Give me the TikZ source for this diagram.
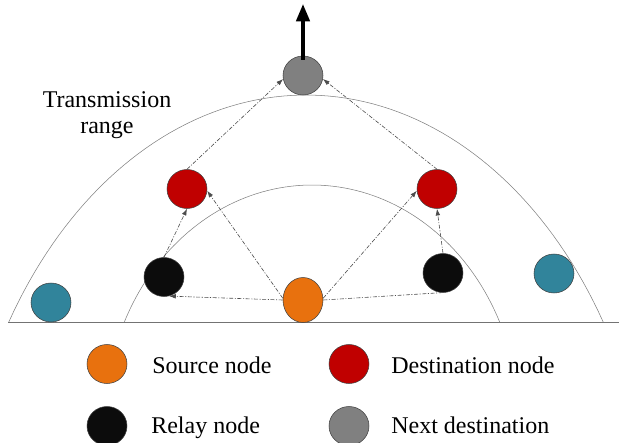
\documentclass[tikz,border=0pt]{standalone}
\usepackage{fontspec}
\setmainfont{LiberationSerif}[Extension=.ttf, UprightFont=*-Regular, BoldFont=*-Bold]
\usetikzlibrary{arrows.meta,shapes.geometric}

\definecolor{srcorange}{RGB}{232,113,14}
\definecolor{dstred}{RGB}{192,0,0}
\definecolor{nextgray}{RGB}{128,128,128}
\definecolor{relayblack}{RGB}{12,12,12}
\definecolor{idleteal}{RGB}{49,132,155}

\tikzset{
  dev/.style={ellipse, draw=black!75, line width=0.4pt, minimum width=30pt, minimum height=29.25pt, inner sep=0pt},
  hop/.style={draw=black!70, line width=0.45pt, dash pattern={on 3pt off 1.2pt on 0.8pt off 1.2pt}, -{Latex[length=5pt,width=3.5pt]}},
  lbl/.style={font=\fontsize{18}{19.5}\selectfont, inner sep=0pt}
}

\begin{document}
\begin{tikzpicture}[x=0.75pt,y=0.75pt,yscale=-1]
\useasboundingbox (0,0) rectangle (619,443);

%Shape: ground line
\draw [color=black!55, line width=0.6pt] (8,322) -- (619,322);
%Curve Lines: outer range
\draw [color=black!50, line width=0.4pt] plot [domain=31.6:148.4, samples=80] ({306+349*cos(\x)},{572-477*sin(\x)});
%Curve Lines: inner range
\draw [color=black!50, line width=0.4pt] plot [domain=25:155, samples=80] ({312+207*cos(\x)},{422-237*sin(\x)});

% Nodes
\draw (303,300) node [dev, fill=srcorange, minimum height=33.75pt] (src) {};
\draw (164,277) node [dev, fill=relayblack] (relayL) {};
\draw (443,273) node [dev, fill=relayblack] (relayR) {};
\draw (187,189) node [dev, fill=dstred] (destL) {};
\draw (437,189) node [dev, fill=dstred] (destR) {};
\draw (303,75.5) node [dev, fill=nextgray] (nd) {};
\draw (51,302.5) node [dev, fill=idleteal] (idleL) {};
\draw (554,273.5) node [dev, fill=idleteal] (idleR) {};

% Hops
\draw [hop] (src.west) -- (relayL.-75);
\draw [hop, -] (src.east) -- (relayR.-95);
\draw [hop] (src.175) -- (destL.-5);
\draw [hop] (src.5) -- (destR.185);
\draw [hop] (relayL.north) -- (destL.south);
\draw [hop] (relayR.north) -- (destR.south);
\draw [hop] (destL.north) -- (nd.190);
\draw [hop] (destR.north) -- (nd.-10);

% Heading
\coordinate (heading) at (303,4);
\draw [line width=2.6pt, -{Triangle[length=13pt,width=10pt]}] ([yshift=3pt]nd.north) -- (heading);

% Text Node
\draw (107,115) node [lbl, align=center] (rangelbl) {Transmission\\range};

% Legend
\draw (107,364) node [dev, fill=srcorange] (keysrc) {};
\draw (349,364) node [dev, fill=dstred] (keydst) {};
\draw (107,426) node [dev, fill=relayblack] (keyrelay) {};
\draw (349,426) node [dev, fill=nextgray] (keynext) {};
% Text Node
\draw (152,373) node [lbl, anchor=base west] (srclbl) {Source node};
% Text Node
\draw (391,373) node [lbl, anchor=base west] (dstlbl) {Destination node};
% Text Node
\draw (151,433) node [lbl, anchor=base west] (relaylbl) {Relay node};
% Text Node
\draw (391,433) node [lbl, anchor=base west] (nextlbl) {Next destination};

\end{tikzpicture}
\end{document}
